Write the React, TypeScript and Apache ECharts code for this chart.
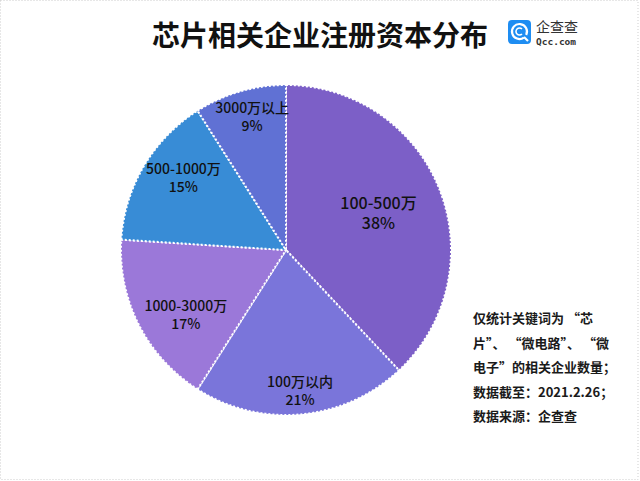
import React, { useEffect, useRef } from "react";
import * as echarts from "echarts";

const categories = ["100-500万", "100万以内", "1000-3000万", "500-1000万", "3000万以上"];
const shares = [38, 21, 17, 15, 9];
const sliceColors = ["#7C5FC7", "#7A75DA", "#9B78D9", "#388CD6", "#6071D4"];
const titleText = "芯片相关企业注册资本分布";
const noteLines = [
  "仅统计关键词为 “芯",
  "片”、 “微电路”、 “微",
  "电子”的相关企业数量；",
  "数据截至：2021.2.26；",
  "数据来源：企查查",
];
// label nudges (dx, dy) away from the default mid-radius position
const labelNudge = [
  [13, -7],
  [6, 55],
  [-24, 25],
  [-29, -29],
  [-10, -52],
];

const FONT = '"Noto Sans CJK SC", "Noto Sans", sans-serif';

export default function App() {
  const ref = useRef<HTMLDivElement>(null);
  useEffect(() => {
    document.body.style.margin = "0";
    const chart = echarts.init(ref.current!, null, { renderer: "svg" });
    const data = categories.map((name, i) => ({
      name,
      value: shares[i],
      itemStyle: { color: sliceColors[i] },
      label: i === 0 ? { fontSize: 16, lineHeight: 20 } : { fontSize: 14, lineHeight: 18 },
    }));
    const noteTexts = noteLines.map((t, i) => ({
      type: "text",
      left: 473,
      top: 311 + i * 24.5,
      style: { text: t, font: `bold 13px ${FONT}`, fill: "#1a1a1a" },
    }));
    chart.setOption({
      animation: false,
      backgroundColor: "#ffffff",
      title: {
        text: titleText,
        left: 147,
        top: 15,
        textStyle: { fontSize: 28, fontWeight: "bold", color: "#111", fontFamily: FONT },
      },
      graphic: [
        {
          type: "rect",
          shape: { x: 0.5, y: 0.5, width: 637.5, height: 479, r: 0 },
          style: { fill: "none", stroke: "#cfcfcf", lineWidth: 1, lineDash: [1, 2] },
          silent: true,
        },
        {
          type: "rect",
          shape: { x: 508, y: 20, width: 23, height: 24, r: 4 },
          style: { fill: "#1E8DF2" },
        },
        {
          type: "arc",
          shape: { cx: 519.5, cy: 31.5, r: 7.5, startAngle: Math.PI * 0.3, endAngle: Math.PI * 2.15, clockwise: true },
          style: { stroke: "#fff", lineWidth: 2.2, fill: "none" },
        },
        {
          type: "arc",
          shape: { cx: 519.5, cy: 31.5, r: 3.5, startAngle: Math.PI * 0.25, endAngle: Math.PI * 1.75, clockwise: true },
          style: { stroke: "#fff", lineWidth: 1.6, fill: "none" },
        },
        {
          type: "line",
          shape: { x1: 524, y1: 37, x2: 528, y2: 41 },
          style: { stroke: "#fff", lineWidth: 2.2 },
        },
        {
          type: "text",
          left: 536,
          top: 19,
          style: { text: "企查查", font: `14px ${FONT}`, fill: "#333" },
        },
        {
          type: "text",
          left: 536,
          top: 36,
          style: { text: "Qcc.com", font: `bold 9.5px "DejaVu Sans Mono", monospace`, fill: "#333" },
        },
        ...noteTexts,
      ],
      series: [
        {
          type: "pie",
          center: [286, 250],
          radius: [0, 165],
          startAngle: 90,
          clockwise: true,
          avoidLabelOverlap: false,
          itemStyle: { borderColor: "#ffffff", borderWidth: 2, borderType: [2, 2] },
          label: {
            show: true,
            position: "inside",
            formatter: "{b}\n{c}%",
            color: "#111",
            fontFamily: FONT,
            fontWeight: 500,
            align: "center",
          },
          labelLine: { show: false },
          labelLayout: (p: any) => ({ dx: labelNudge[p.dataIndex][0], dy: labelNudge[p.dataIndex][1] }),
          emphasis: { disabled: true },
          data,
        },
      ],
    });
    return () => chart.dispose();
  }, []);
  return (
    <div
      ref={ref}
      style={{ position: "fixed", left: 0, top: 0, width: 640, height: 481 }}
    />
  );
}
